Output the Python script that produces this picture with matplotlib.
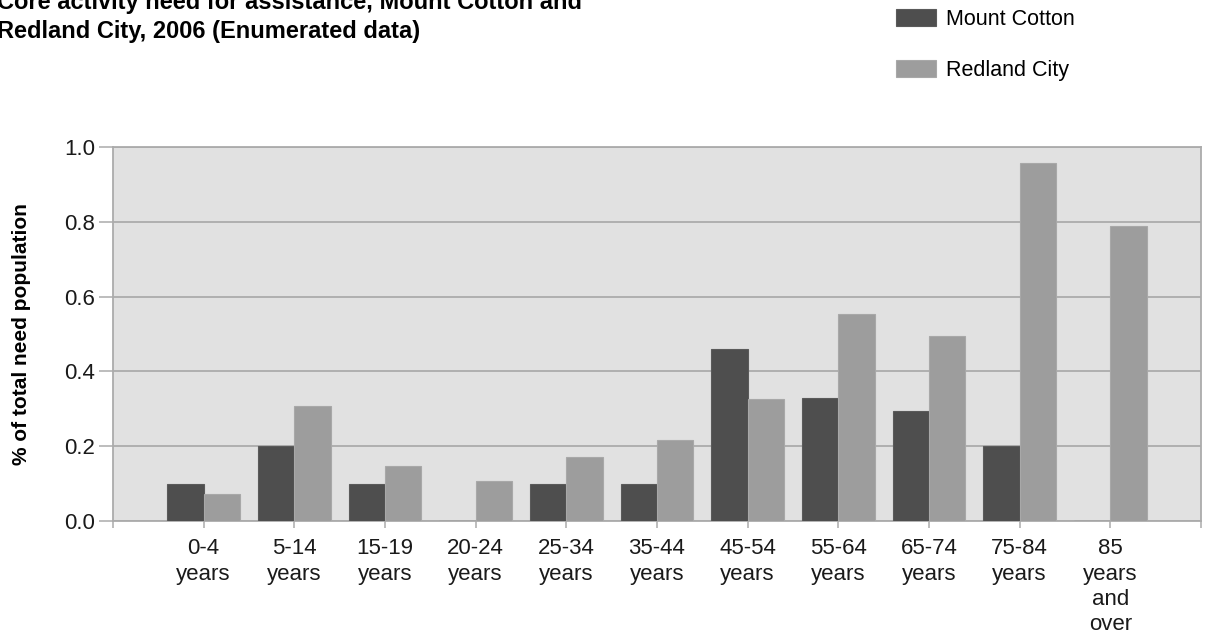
import numpy as np
import matplotlib.pyplot as plt

# data
age_groups = ["0-4\nyears", "5-14\nyears", "15-19\nyears", "20-24\nyears",
              "25-34\nyears", "35-44\nyears", "45-54\nyears", "55-64\nyears",
              "65-74\nyears", "75-84\nyears", "85\nyears\nand\nover"]
mount_cotton = [0.10, 0.20, 0.10, 0.0, 0.10, 0.10, 0.46, 0.33, 0.295, 0.20, 0.0]
redland_city = [0.071, 0.307, 0.146, 0.107, 0.17, 0.217, 0.326, 0.553, 0.494, 0.957, 0.789]
y_ticks = [0.0, 0.2, 0.4, 0.6, 0.8, 1.0]

title = "Core activity need for assistance, Mount Cotton and\nRedland City, 2006 (Enumerated data)"

plt.rcParams['font.family'] = ['Liberation Sans', 'DejaVu Sans']

dark = "#4e4e4e"
light = "#9d9d9d"
grid_col = "#ababab"

fig = plt.figure(figsize=(12.08, 6.37), dpi=100)
ax = fig.add_axes([113 / 1208, 1 - 521 / 637, 1088 / 1208, 374 / 637])
ax.set_facecolor("#e1e1e1")

x = np.arange(len(age_groups))
w = 0.4
ax.bar(x - w / 2, mount_cotton, width=w, color=dark, edgecolor="#5a5a5a",
       linewidth=0.8, label="Mount Cotton", zorder=3)
ax.bar(x + w / 2, redland_city, width=w, color=light, edgecolor="#a8a8a8",
       linewidth=0.8, label="Redland City", zorder=3)

ax.set_xlim(-1, len(age_groups))
ax.set_ylim(0, 1.0)
ax.set_yticks(y_ticks)
ax.set_yticklabels([f"{v:.1f}" for v in y_ticks])
ax.set_xticks(np.arange(-1, len(age_groups) + 1))
ax.set_xticklabels([""] + age_groups + [""], linespacing=1.27)

ax.yaxis.grid(True, color=grid_col, linewidth=1.3, zorder=1)
ax.set_axisbelow(True)
for s in ax.spines.values():
    s.set_color(grid_col)
    s.set_linewidth(1.3)

ax.tick_params(axis='both', colors=grid_col, labelcolor="#1a1a1a",
               labelsize=16, width=1.1)
ax.tick_params(axis='y', length=10, pad=3)
ax.tick_params(axis='x', length=5, pad=7.5)

ax.set_ylabel("% of total need population", fontsize=15, fontweight="bold")
ax.yaxis.set_label_coords(-0.075, 0.5)

fig.text(-3 / 1208, 1 - 38 / 637, title, fontsize=17, fontweight="bold",
         ha="left", va="baseline", linespacing=1.32)

fig.legend(loc="upper left", bbox_to_anchor=(896 / 1208, 1 - 9 / 637),
           frameon=False, fontsize=15.5, handlelength=1.85, handleheight=0.8,
           handletextpad=0.45, labelspacing=1.4, borderpad=0, borderaxespad=0)

fig.savefig("out.png", dpi=100)
